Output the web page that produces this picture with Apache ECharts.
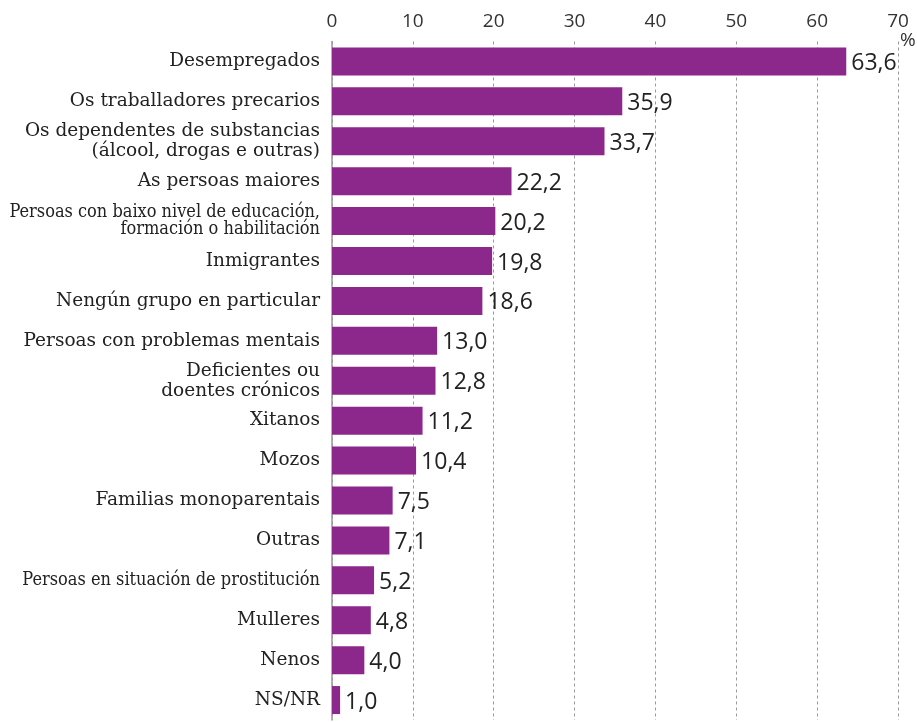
<!DOCTYPE html>
<html><head><meta charset="utf-8">
<script src="https://cdn.jsdelivr.net/npm/echarts@6/dist/echarts.min.js"></script>
<style>html,body{margin:0;padding:0;background:#fff}#c{width:917px;height:722px}</style>
</head><body><div id="c"></div>
<script>
const categories = [
  "Desempregados",
  "Os traballadores precarios",
  "Os dependentes de substancias\n(álcool, drogas e outras)",
  "As persoas maiores",
  "Persoas con baixo nivel de educación,\nformación o habilitación",
  "Inmigrantes",
  "Nengún grupo en particular",
  "Persoas con problemas mentais",
  "Deficientes ou\ndoentes crónicos",
  "Xitanos",
  "Mozos",
  "Familias monoparentais",
  "Outras",
  "Persoas en situación de prostitución",
  "Mulleres",
  "Nenos",
  "NS/NR"
];
const values = [63.6, 35.9, 33.7, 22.2, 20.2, 19.8, 18.6, 13.0, 12.8, 11.2, 10.4, 7.5, 7.1, 5.2, 4.8, 4.0, 1.0];
const smallLabels = [4, 13];
const xTicks = {min: 0, max: 70, interval: 10};

const catData = categories.map((c, i) => smallLabels.includes(i)
  ? {value: c, textStyle: {fontSize: 18, lineHeight: 17, fontFamily: "DejaVu Serif Condensed"}}
  : {value: c});

const chart = echarts.init(document.getElementById('c'));
chart.setOption({
  animation: false,
  grid: {left: 332, right: 19, top: 41.5, bottom: 2, containLabel: false},
  xAxis: {
    type: 'value', position: 'top', min: xTicks.min, max: xTicks.max, interval: xTicks.interval,
    axisLine: {show: false}, axisTick: {show: false},
    axisLabel: {color: '#333', fontSize: 19, fontFamily: 'Open Sans', margin: 10},
    splitLine: {show: true, lineStyle: {type: [3, 3], color: '#999', width: 1}}
  },
  yAxis: {
    type: 'category', inverse: true, data: catData,
    axisLine: {show: true, lineStyle: {color: '#999', width: 1.5}},
    axisTick: {show: false},
    axisLabel: {color: '#222', fontSize: 18.5, fontFamily: 'DejaVu Serif', margin: 12, lineHeight: 20, align: 'right'}
  },
  series: [{
    type: 'bar', data: values, barWidth: 28,
    itemStyle: {color: '#8C278C'},
    label: {show: true, position: 'right', distance: 5, color: '#222', fontSize: 23, fontFamily: 'Open Sans',
      offset: [0, 2],
      formatter: p => p.value.toFixed(1).replace('.', ',')}
  }],
  graphic: [{type: 'text', left: 900, top: 31, style: {text: '%', fontSize: 19, fill: '#333', fontFamily: 'Open Sans'}}]
});
</script></body></html>
